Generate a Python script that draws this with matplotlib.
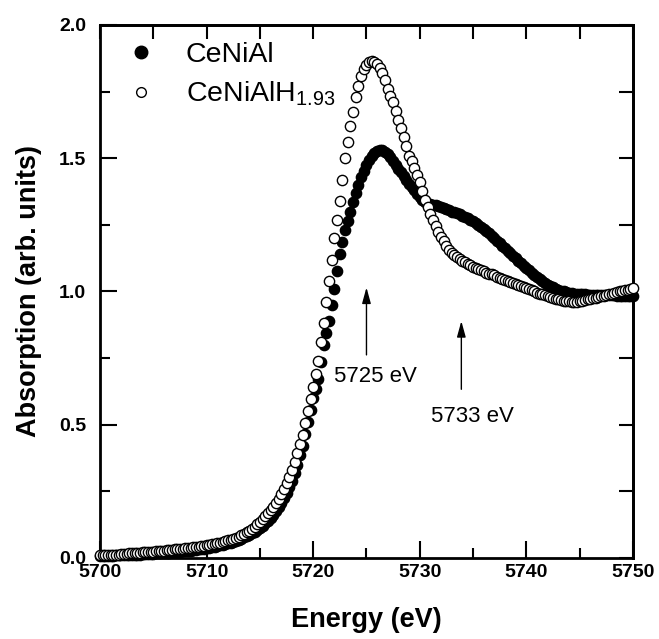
import numpy as np
import matplotlib
matplotlib.use('Agg')
import matplotlib.pyplot as plt
from matplotlib.lines import Line2D

plt.rcParams['font.family'] = ['Liberation Sans', 'DejaVu Sans']
plt.rcParams['mathtext.fontset'] = 'custom'
plt.rcParams['mathtext.rm'] = 'Liberation Sans'
plt.rcParams['mathtext.it'] = 'Liberation Sans:italic'
plt.rcParams['mathtext.bf'] = 'Liberation Sans:bold'

# ---------------------------------------------------------------------------- #
# Ce L3-edge XANES, sampled every 0.25 eV from 5700 to 5750 eV
energy = np.linspace(5700, 5750, 201)

# CeNiAl (filled circles)
cenial = [
    0.008, 0.008, 0.008, 0.009, 0.009, 0.009, 0.010, 0.010,
    0.010, 0.011, 0.011, 0.012, 0.012, 0.012, 0.013, 0.013,
    0.014, 0.014, 0.015, 0.015, 0.016, 0.017, 0.017, 0.018,
    0.019, 0.020, 0.020, 0.021, 0.022, 0.023, 0.024, 0.025,
    0.026, 0.027, 0.028, 0.030, 0.031, 0.032, 0.034, 0.035,
    0.037, 0.039, 0.041, 0.043, 0.045, 0.047, 0.050, 0.052,
    0.055, 0.058, 0.061, 0.064, 0.068, 0.072, 0.077, 0.082,
    0.087, 0.093, 0.099, 0.106, 0.113, 0.121, 0.130, 0.140,
    0.150, 0.162, 0.175, 0.190, 0.205, 0.224, 0.244, 0.266,
    0.290, 0.320, 0.350, 0.385, 0.420, 0.465, 0.510, 0.555,
    0.600, 0.635, 0.670, 0.735, 0.800, 0.845, 0.890, 0.950,
    1.010, 1.075, 1.140, 1.185, 1.230, 1.265, 1.300, 1.335,
    1.370, 1.400, 1.430, 1.453, 1.475, 1.493, 1.510, 1.520,
    1.528, 1.531, 1.532, 1.525, 1.515, 1.503, 1.490, 1.475,
    1.460, 1.448, 1.435, 1.420, 1.405, 1.392, 1.380, 1.367,
    1.355, 1.345, 1.335, 1.330, 1.327, 1.325, 1.323, 1.320,
    1.318, 1.314, 1.310, 1.305, 1.300, 1.297, 1.293, 1.289,
    1.285, 1.280, 1.274, 1.269, 1.263, 1.256, 1.249, 1.242,
    1.235, 1.226, 1.218, 1.209, 1.200, 1.191, 1.182, 1.172,
    1.163, 1.153, 1.144, 1.134, 1.125, 1.116, 1.106, 1.097,
    1.088, 1.080, 1.071, 1.063, 1.055, 1.047, 1.040, 1.032,
    1.025, 1.020, 1.015, 1.010, 1.006, 1.003, 1.000, 0.997,
    0.995, 0.993, 0.992, 0.991, 0.990, 0.989, 0.989, 0.988,
    0.988, 0.988, 0.987, 0.987, 0.986, 0.986, 0.986, 0.985,
    0.985, 0.985, 0.984, 0.984, 0.983, 0.983, 0.983, 0.982,
    0.982,
]

# CeNiAlH1.93 (open circles)
cenialh = [
    0.010, 0.010, 0.011, 0.011, 0.012, 0.012, 0.013, 0.013,
    0.014, 0.015, 0.016, 0.017, 0.018, 0.019, 0.019, 0.020,
    0.021, 0.022, 0.023, 0.023, 0.024, 0.025, 0.026, 0.027,
    0.028, 0.029, 0.030, 0.031, 0.032, 0.033, 0.034, 0.035,
    0.036, 0.037, 0.038, 0.040, 0.041, 0.043, 0.045, 0.046,
    0.048, 0.050, 0.052, 0.054, 0.056, 0.058, 0.061, 0.063,
    0.066, 0.069, 0.073, 0.076, 0.080, 0.085, 0.090, 0.096,
    0.102, 0.109, 0.117, 0.126, 0.135, 0.145, 0.156, 0.168,
    0.180, 0.193, 0.207, 0.223, 0.240, 0.260, 0.282, 0.305,
    0.330, 0.362, 0.395, 0.428, 0.460, 0.505, 0.550, 0.595,
    0.640, 0.690, 0.740, 0.810, 0.880, 0.960, 1.040, 1.120,
    1.200, 1.270, 1.340, 1.420, 1.500, 1.560, 1.620, 1.675,
    1.730, 1.770, 1.810, 1.835, 1.850, 1.860, 1.865, 1.862,
    1.855, 1.840, 1.820, 1.792, 1.760, 1.735, 1.710, 1.678,
    1.645, 1.612, 1.580, 1.545, 1.510, 1.488, 1.465, 1.438,
    1.410, 1.378, 1.345, 1.318, 1.290, 1.268, 1.245, 1.225,
    1.205, 1.188, 1.170, 1.157, 1.145, 1.137, 1.130, 1.122,
    1.115, 1.109, 1.104, 1.098, 1.093, 1.088, 1.084, 1.079,
    1.075, 1.071, 1.067, 1.064, 1.060, 1.056, 1.052, 1.048,
    1.044, 1.040, 1.036, 1.032, 1.028, 1.024, 1.020, 1.016,
    1.012, 1.008, 1.004, 1.000, 0.996, 0.992, 0.989, 0.985,
    0.982, 0.979, 0.976, 0.973, 0.970, 0.968, 0.966, 0.964,
    0.963, 0.962, 0.962, 0.962, 0.963, 0.965, 0.967, 0.970,
    0.972, 0.974, 0.977, 0.980, 0.982, 0.984, 0.987, 0.990,
    0.992, 0.994, 0.997, 1.000, 1.002, 1.005, 1.007, 1.010,
    1.012,
]

labels = ['CeNiAl', r'CeNiAlH$_\mathregular{1.93}$']

# arrow annotations
peaks = [5725, 5733.9]
peak_labels = ['5725 eV', '5733 eV']

# ---------------------------------------------------------------------------- #
fig = plt.figure(figsize=(6.59, 6.39), dpi=100)
ax = fig.add_axes([0.1517, 0.1268, 0.8088, 0.8341])

ax.plot(energy, cenial, 'o', ms=7.4, mfc='k', mec='k', mew=1.0,
        clip_on=False, zorder=3)
ax.plot(energy, cenialh, 'o', ms=7.4, mfc='w', mec='k', mew=1.0,
        clip_on=False, zorder=4)

ax.set_xlim(5700, 5750)
ax.set_ylim(0, 2.0)

# arrows
aprops = dict(arrowstyle='-|>,head_length=0.8,head_width=0.22', color='k',
              lw=1.0, mutation_scale=12, shrinkA=0, shrinkB=0)
ax.annotate('', xy=(peaks[0], 1.015), xytext=(peaks[0], 0.762), arrowprops=aprops)
ax.text(peaks[0] + 0.85, 0.68, peak_labels[0], fontsize=16, ha='center', va='center')
ax.annotate('', xy=(peaks[1], 0.889), xytext=(peaks[1], 0.633), arrowprops=aprops)
ax.text(peaks[1] + 1.0, 0.529, peak_labels[1], fontsize=16, ha='center', va='center')

# ticks
ax.set_xticks(np.arange(5700, 5751, 10))
ax.set_xticks(np.arange(5700, 5751, 5), minor=True)
ax.set_yticks(np.arange(0, 2.01, 0.5))
ax.set_yticks(np.arange(0, 2.01, 0.25), minor=True)
ax.tick_params(which='major', direction='in', length=12, width=1.5, labelsize=14, pad=4)
ax.tick_params(which='minor', direction='in', length=7, width=1.5)
ax.tick_params(axis='y', which='major', pad=10)
ax.set_xticklabels(['5700', '5710', '5720', '5730', '5740', '5750'], fontweight='bold')
ax.set_yticklabels(['0.0', '0.5', '1.0', '1.5', '2.0'], fontweight='bold')

top = ax.secondary_xaxis('top')
top.set_xticks(np.arange(5700, 5751, 5))
top.tick_params(direction='in', length=10, width=1.5, labeltop=False)
right = ax.secondary_yaxis('right')
right.set_yticks(np.arange(0, 2.01, 0.25))
right.tick_params(direction='in', length=10, width=1.5, labelright=False)

for a in (ax, top, right):
    for s in a.spines.values():
        s.set_linewidth(2.0)

ax.set_xlabel('Energy (eV)', fontsize=19.5, fontweight='bold', labelpad=19)
ax.set_ylabel('Absorption (arb. units)', fontsize=19.5, fontweight='bold', labelpad=12)

handles = [Line2D([], [], ls='none', marker='o', ms=9.0, mfc='k', mec='k', mew=1.0),
           Line2D([], [], ls='none', marker='o', ms=7.0, mfc='w', mec='k', mew=1.0)]
ax.legend(handles, labels, loc='upper left', bbox_to_anchor=(0.0, 0.968), frameon=False,
          fontsize=20.5, handlelength=2.9, handletextpad=0.12,
          borderaxespad=0.0, borderpad=0.0, labelspacing=0.42)

fig.savefig('out.png', dpi=100)
